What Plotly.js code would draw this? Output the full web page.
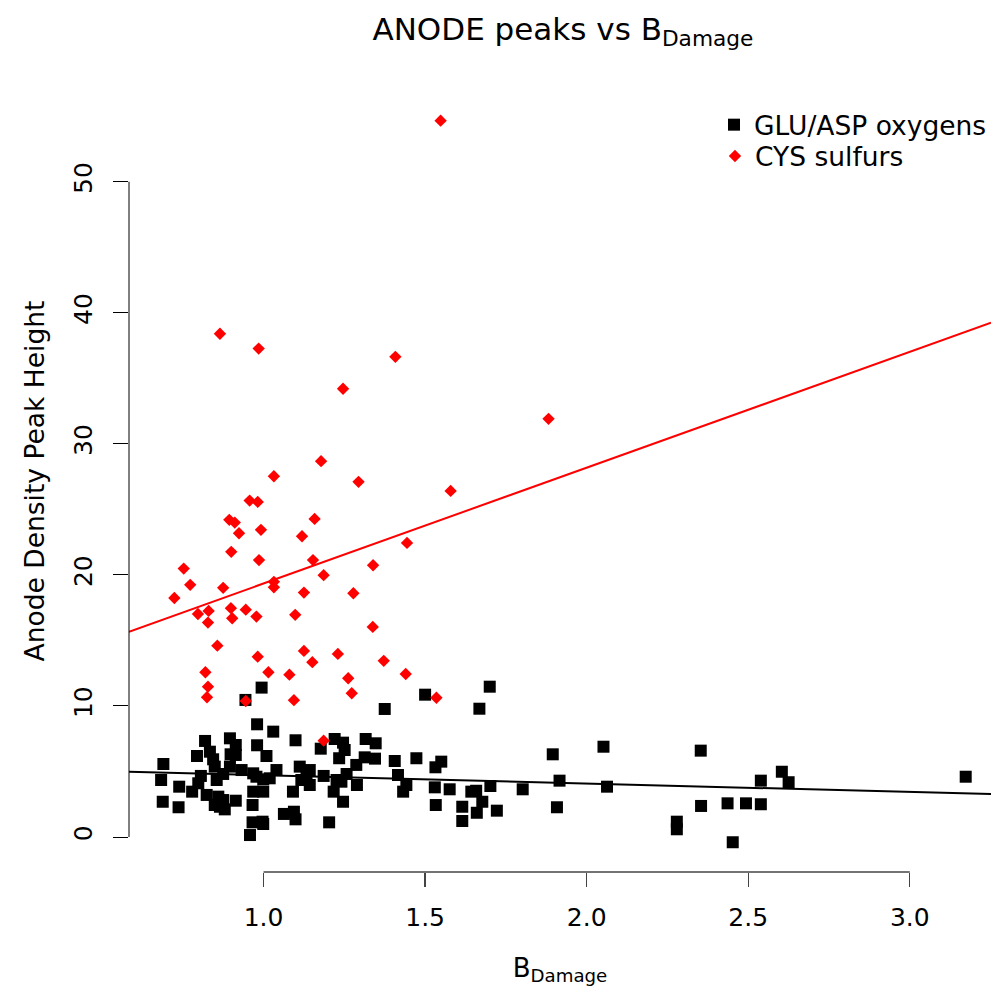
<!DOCTYPE html>
<html>
<head>
<meta charset="utf-8">
<script src="https://cdn.plot.ly/plotly-3.0.1.min.js"></script>
<style>html,body{margin:0;padding:0;background:#fff;}#chart{width:992px;height:989px;}</style>
</head>
<body>
<div id="chart"></div>
<script>
// GLU/ASP oxygens (black squares)
const gluX = [0.994,0.944,0.980,1.030,1.099,0.819,0.896,0.914,0.980,1.177,1.220,1.246,1.251,0.794,0.834,0.844,0.898,0.914,1.009,1.234,0.690,0.849,0.896,1.112,1.143,1.040,0.932,0.968,1.257,0.806,1.186,1.133,1.117,0.875,0.978,0.999,1.019,0.683,1.226,0.798,0.855,0.739,1.143,0.779,0.968,0.999,1.091,1.217,0.824,0.860,0.875,0.688,1.246,0.914,0.849,0.865,0.880,0.966,0.737,1.063,1.094,1.099,0.966,0.997,0.999,1.203,0.958,1.700,1.500,1.375,1.668,1.316,1.347,1.313,1.345,1.287,1.406,1.473,1.550,1.532,1.895,1.241,1.416,1.289,1.442,1.432,1.530,1.576,1.643,1.658,1.702,1.802,1.916,1.533,1.615,1.660,1.677,1.722,1.908,1.615,2.052,2.353,2.063,2.539,2.604,2.625,3.173,2.354,2.436,2.493,2.539,2.279,2.279,2.452];
const gluY = [11.40,10.46,8.60,8.04,7.38,7.33,7.53,7.02,7.00,6.74,7.48,7.20,6.64,6.18,6.51,5.93,6.31,6.26,6.18,6.01,5.57,5.37,5.37,5.37,5.11,5.11,5.11,4.86,4.81,4.66,4.66,4.60,4.35,4.81,4.60,4.40,4.48,4.35,4.35,4.10,4.35,3.84,3.97,3.46,3.46,3.46,3.46,3.46,3.21,3.08,2.82,2.69,2.69,2.77,2.44,2.31,2.11,2.44,2.27,1.76,1.93,1.35,1.12,1.17,0.99,1.12,0.15,11.47,10.86,9.77,9.79,7.48,7.15,6.08,5.98,5.50,5.80,6.01,5.75,5.32,6.31,4.22,4.73,3.97,3.97,3.46,3.79,3.64,3.46,3.53,3.89,3.64,4.30,2.44,2.31,1.85,2.69,2.01,2.27,1.22,6.89,6.59,3.84,4.30,4.98,4.18,4.60,2.37,2.57,2.57,2.50,1.17,0.59,-0.40];

// CYS sulfurs (red diamonds)
const cysX = [1.548,0.865,0.985,1.408,1.246,1.882,1.579,1.294,1.032,1.178,0.957,0.982,1.158,0.894,0.911,0.924,0.992,1.119,1.444,0.900,0.986,1.153,1.339,1.186,1.032,1.032,0.875,1.125,1.278,0.753,0.773,0.724,0.797,0.830,0.899,0.903,0.945,0.978,1.098,0.828,1.338,0.857,0.982,1.125,1.230,1.151,1.372,0.820,1.015,1.080,1.262,1.440,0.828,1.273,0.825,0.945,1.094,1.535,1.186];
const cysY = [54.66,38.40,37.27,36.64,34.20,31.91,26.41,27.10,27.53,28.68,25.67,25.57,24.27,24.20,23.99,23.18,23.44,22.95,22.44,21.76,21.13,21.13,20.74,19.98,19.47,19.06,19.01,18.65,18.60,20.48,19.24,18.24,17.02,17.25,17.46,16.69,17.35,16.82,16.95,16.36,16.03,14.60,13.76,14.20,13.97,13.34,13.44,12.57,12.57,12.39,12.11,12.44,11.47,10.97,10.66,10.38,10.44,10.63,7.35];

// regression lines (intercept, slope)
const gluFit = [5.35, -0.637];
const cysFit = [10.51, 8.835];

const xTicks = [1.0, 1.5, 2.0, 2.5, 3.0];
const xTickText = ['1.0', '1.5', '2.0', '2.5', '3.0'];
const yTicks = [0, 10, 20, 30, 40, 50];
const yTickText = ['0', '10', '20', '30', '40', '50'];

const xRange = [0.5836, 3.2513];
const yRange = [-2.67, 57.0];

function fitLine(c) {
  return { x: xRange.slice(), y: xRange.map(v => c[0] + c[1] * v) };
}
const gl = fitLine(gluFit), cl = fitLine(cysFit);

const FONT = 'DejaVu Sans';
const traces = [
  { x: gluX, y: gluY, type: 'scatter', mode: 'markers', name: 'GLU/ASP oxygens', legend: 'legend',
    marker: { symbol: 'square', size: 12, color: '#000000' } },
  { x: cysX, y: cysY, type: 'scatter', mode: 'markers', name: 'CYS sulfurs', legend: 'legend2',
    marker: { symbol: 'diamond', size: 9.5, color: '#ff0000' }, cliponaxis: false },
  { x: gl.x, y: gl.y, type: 'scatter', mode: 'lines', showlegend: false,
    line: { color: '#000000', width: 2 } },
  { x: cl.x, y: cl.y, type: 'scatter', mode: 'lines', showlegend: false,
    line: { color: '#ff0000', width: 2 } }
];

const legendBase = {
  x: 0.679, xanchor: 'left', yanchor: 'top',
  bgcolor: 'rgba(0,0,0,0)', borderwidth: 0,
  font: { family: FONT, size: 26.5, color: '#000' }
};

const layout = {
  width: 992, height: 989,
  margin: { l: 129, r: 0, t: 90, b: 117 },
  paper_bgcolor: '#ffffff', plot_bgcolor: '#ffffff',
  font: { family: FONT, size: 26, color: '#000000' },
  showlegend: true,
  title: { text: 'ANODE peaks vs B<sub>Damage</sub>', font: { family: FONT, size: 31, color: '#000' },
           xref: 'container', yref: 'container', x: 0.5675, xanchor: 'center', y: 0.971, yanchor: 'middle' },
  xaxis: {
    range: xRange, showgrid: false, zeroline: false, showline: false,
    tickmode: 'array', tickvals: xTicks, ticktext: xTickText,
    ticks: 'outside', ticklen: 14, tickwidth: 1.3, tickcolor: '#444',
    tickfont: { family: FONT, size: 25 }, ticklabelstandoff: 9,
    title: { text: 'B<sub>Damage</sub>', font: { family: FONT, size: 26 }, standoff: 27 }
  },
  yaxis: {
    range: yRange, showgrid: false, zeroline: false, showline: false,
    tickmode: 'array', tickvals: yTicks, ticktext: yTickText,
    ticks: 'outside', ticklen: 15, tickwidth: 1, tickcolor: '#000',
    tickangle: -90, tickfont: { family: FONT, size: 25 }, ticklabelstandoff: 11,
    title: { text: 'Anode Density Peak Height', font: { family: FONT, size: 26.5 }, standoff: 16 }
  },
  legend: Object.assign({}, legendBase, { y: 0.986 }),
  legend2: Object.assign({}, legendBase, { y: 0.946 }),
  shapes: [
    { type: 'line', xref: 'paper', yref: 'y', x0: 0, x1: 0, y0: yTicks[0], y1: yTicks[yTicks.length - 1],
      line: { color: '#000', width: 1 } },
    { type: 'line', xref: 'x', yref: 'paper', x0: xTicks[0], x1: xTicks[xTicks.length - 1], y0: 0, y1: 0,
      line: { color: '#444', width: 1.3 } }
  ]
};

Plotly.newPlot('chart', traces, layout, { staticPlot: true });
</script>
</body>
</html>
